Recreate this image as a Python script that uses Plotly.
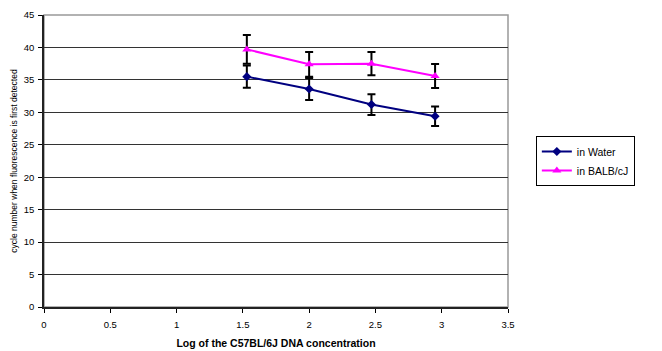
import plotly.graph_objects as go

log_conc = [1.53, 2.0, 2.47, 2.95]
water = [35.5, 33.6, 31.2, 29.4]
water_err = [1.7, 1.7, 1.6, 1.5]
balb = [39.7, 37.4, 37.5, 35.6]
balb_err = [2.2, 1.9, 1.8, 1.85]

fig = go.Figure()
fig.add_trace(go.Scatter(
    x=log_conc, y=water, name="in Water", mode="lines+markers",
    line=dict(color="#000080", width=2),
    marker=dict(symbol="diamond", size=7, color="#000080"),
    error_y=dict(type="data", array=water_err, color="black", thickness=2, width=4),
))
fig.add_trace(go.Scatter(
    x=log_conc, y=balb, name="in BALB/cJ", mode="lines+markers",
    line=dict(color="#FF00FF", width=2),
    marker=dict(symbol="triangle-up", size=8, color="#FF00FF"),
    error_y=dict(type="data", array=balb_err, color="black", thickness=2, width=4),
))

# gray frame on the top and right of the plot area
fig.add_shape(type="rect", xref="paper", yref="paper", x0=0, x1=1, y0=0, y1=1,
              line=dict(color="#999", width=1.5), layer="below")

fig.update_layout(
    width=662, height=351,
    margin=dict(l=44, r=154, t=15, b=44),
    paper_bgcolor="white", plot_bgcolor="white",
    font=dict(family="Liberation Sans, Arial, sans-serif", size=9, color="black"),
    showlegend=True,
    legend=dict(x=1.06, y=0.5, xanchor="left", yanchor="middle",
                bordercolor="black", borderwidth=1, font=dict(size=10.5),
                itemwidth=30, tracegroupgap=0),
    xaxis=dict(range=[0, 3.5], dtick=0.5, showgrid=False, zeroline=False,
               showline=True, linecolor="#222", linewidth=1.5, automargin=False,
               ticks="outside", ticklen=4, tickcolor="black",
               tickfont=dict(size=9.5), ticklabelstandoff=4,
               title=dict(text="<b>Log of the C57BL/6J DNA concentration</b>",
                          font=dict(size=10.5), standoff=10)),
    yaxis=dict(range=[0, 45], dtick=5, showgrid=True, gridcolor="#333", gridwidth=1,
               zeroline=False, showline=True, linecolor="#222", linewidth=1.5, automargin=False,
               ticks="outside", ticklen=4, tickcolor="black",
               tickfont=dict(size=9.5), ticklabelstandoff=2,
               title=dict(text="cycle number when fluorescence is first detected",
                          font=dict(size=8.5), standoff=5)),
)

fig.write_html("out.html")
